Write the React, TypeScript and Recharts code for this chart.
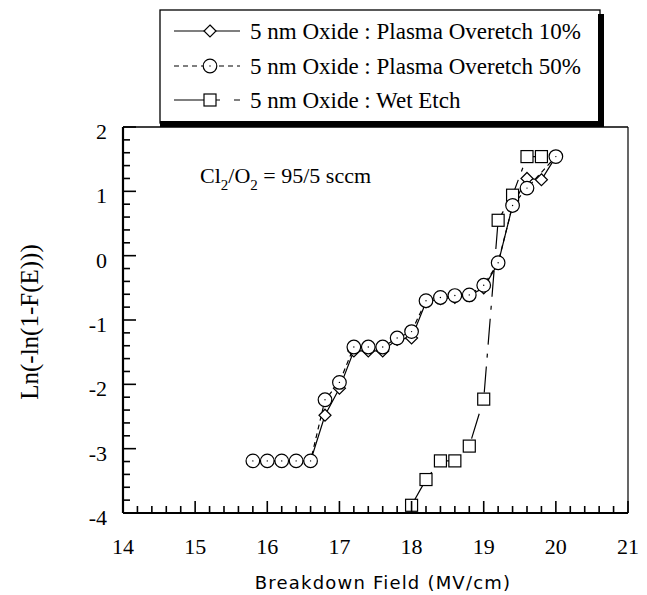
import React from 'react';
import { LineChart, Line, XAxis, YAxis, ReferenceLine } from 'recharts';

// ---- data ----
const plasmaField = [15.8, 16.0, 16.2, 16.4, 16.6, 16.8, 17.0, 17.2, 17.4, 17.6, 17.8, 18.0, 18.2, 18.4, 18.6, 18.8, 19.0, 19.2, 19.4, 19.6, 19.8, 20.0];
const overetch10 = [-3.19, -3.19, -3.19, -3.19, -3.19, -2.48, -2.06, -1.48, -1.48, -1.48, -1.3, -1.28, -0.72, -0.67, -0.65, -0.62, -0.5, -0.12, 0.78, 1.2, 1.18, 1.54];
const overetch50Field = [15.8, 16.0, 16.2, 16.4, 16.6, 16.8, 17.0, 17.2, 17.4, 17.6, 17.8, 18.0, 18.2, 18.4, 18.6, 18.8, 19.0, 19.2, 19.4, 19.6, 20.0];
const overetch50 = [-3.19, -3.19, -3.19, -3.19, -3.19, -2.24, -1.97, -1.42, -1.42, -1.42, -1.28, -1.18, -0.7, -0.65, -0.62, -0.61, -0.46, -0.11, 0.78, 1.05, 1.54];
const wetField = [18.0, 18.2, 18.4, 18.6, 18.8, 19.0, 19.2, 19.4, 19.6, 19.8];
const wetEtch = [-3.88, -3.48, -3.19, -3.19, -2.96, -2.23, 0.55, 0.94, 1.54, 1.54];

const xTickLabels = [14, 15, 16, 17, 18, 19, 20, 21];
const yTickLabels = [-4, -3, -2, -1, 0, 1, 2];
const seriesNames = [
  '5 nm Oxide : Plasma Overetch 10%',
  '5 nm Oxide : Plasma Overetch 50%',
  '5 nm Oxide : Wet Etch',
];
const yAxisTitle = 'Ln(-ln(1-F(E)))';
const xAxisTitle = 'Breakdown Field (MV/cm)';
const MINOR_PER_MAJOR = 5;

const withMinor = (majors: number[]) => {
  const out: number[] = [];
  for (let i = 0; i < majors.length; i++) {
    out.push(majors[i]);
    if (i < majors.length - 1) {
      const step = (majors[i + 1] - majors[i]) / MINOR_PER_MAJOR;
      for (let k = 1; k < MINOR_PER_MAJOR; k++) out.push(+(majors[i] + k * step).toFixed(4));
    }
  }
  return out;
};
const xTicks = withMinor(xTickLabels);
const yTicks = withMinor(yTickLabels);
const isMajor = (v: number) => Math.abs(v - Math.round(v)) < 1e-6;

const d10 = plasmaField.map((x, i) => ({ x, y: overetch10[i] }));
const d50 = overetch50Field.map((x, i) => ({ x, y: overetch50[i] }));
const dWet = wetField.map((x, i) => ({ x, y: wetEtch[i] }));

const SERIF = '"Liberation Serif", "Times New Roman", serif';
const SANS = '"DejaVu Sans", Verdana, sans-serif';

const XTick = (props: any) => {
  const { x, y, payload } = props;
  const v = payload.value;
  const major = isMajor(v);
  return (
    <g>
      <line x1={x} x2={x} y1={y} y2={y - (major ? 12 : 7)} stroke="#000" strokeWidth={1.6} />
      {major && (
        <text x={x} y={y + 41} textAnchor="middle" fontFamily={SERIF} fontSize={22} fill="#000">
          {Math.round(v)}
        </text>
      )}
    </g>
  );
};

const YTick = (props: any) => {
  const { x, y, payload } = props;
  const v = payload.value;
  const major = isMajor(v);
  return (
    <g>
      <line x1={x} x2={x + (major ? 13 : 7)} y1={y} y2={y} stroke="#000" strokeWidth={1.6} />
      {major && (
        <text x={x - 16} y={y + 12} textAnchor="end" fontFamily={SERIF} fontSize={22} fill="#000">
          {Math.round(v)}
        </text>
      )}
    </g>
  );
};

const diamondDot = (p: any) => {
  const { cx, cy, key } = p;
  if (cx == null || cy == null) return <g key={key} />;
  const s = 6;
  return (
    <path key={key} d={`M${cx},${cy - s}L${cx + s},${cy}L${cx},${cy + s}L${cx - s},${cy}Z`} fill="#fff" stroke="#000" strokeWidth={1.2} />
  );
};
const circleDot = (p: any) => {
  const { cx, cy, key } = p;
  if (cx == null || cy == null) return <g key={key} />;
  return (
    <g key={key}>
      <circle cx={cx} cy={cy} r={6.8} fill="#fff" stroke="#000" strokeWidth={1.2} />
      <circle cx={cx} cy={cy} r={0.7} fill="#000" />
    </g>
  );
};
const squareDot = (p: any) => {
  const { cx, cy, key } = p;
  if (cx == null || cy == null) return <g key={key} />;
  return <rect key={key} x={cx - 6} y={cy - 6} width={12} height={12} fill="#fff" stroke="#000" strokeWidth={1.2} />;
};

const legendStyles = [
  { dash: undefined as string | undefined, marker: 'diamond' },
  { dash: '5 4', marker: 'circle' },
  { dash: '30 12 4 14 6', marker: 'square' },
];

const LegendMarker = ({ kind, cx, cy }: { kind: string; cx: number; cy: number }) => {
  if (kind === 'diamond') return diamondDot({ cx, cy, key: 'l' });
  if (kind === 'circle') return circleDot({ cx, cy, key: 'l' });
  return squareDot({ cx, cy, key: 'l' });
};

export default function App() {
  const W = 647;
  const H = 595;
  const rows = [31, 66, 100];
  return (
    <div style={{ position: 'absolute', left: 0, top: 0, width: W, height: H, background: '#fff', overflow: 'hidden' }}>
      <div style={{ position: 'absolute', left: 0, top: 0 }}>
        <LineChart width={W} height={H} margin={{ top: 127, right: 19, left: 63, bottom: 22 }}>
          <XAxis
            dataKey="x"
            type="number"
            domain={[14, 21]}
            ticks={xTicks}
            interval={0}
            allowDataOverflow
            height={60}
            tickLine={false}
            tickSize={0}
            tickMargin={0}
            axisLine={{ stroke: '#000', strokeWidth: 2.2 }}
            tick={XTick}
          />
          <YAxis
            type="number"
            domain={[-4, 2]}
            ticks={yTicks}
            interval={0}
            allowDataOverflow
            width={60}
            tickLine={false}
            tickSize={0}
            tickMargin={0}
            axisLine={{ stroke: '#000', strokeWidth: 2.2 }}
            tick={YTick}
          />
          <ReferenceLine y={2} stroke="#000" strokeWidth={1.6} />
          <ReferenceLine x={21} stroke="#000" strokeWidth={1.2} />
          <Line data={d10} dataKey="y" name={seriesNames[0]} stroke="#000" strokeWidth={1.2} dot={diamondDot} activeDot={false} isAnimationActive={false} />
          <Line data={dWet} dataKey="y" name={seriesNames[2]} stroke="#000" strokeWidth={1.2} strokeDasharray="26 9 4 9" dot={squareDot} activeDot={false} isAnimationActive={false} />
          <Line data={d50} dataKey="y" name={seriesNames[1]} stroke="#000" strokeWidth={1.2} strokeDasharray="5 4" dot={circleDot} activeDot={false} isAnimationActive={false} />
        </LineChart>
      </div>
      <svg width={W} height={H} style={{ position: 'absolute', left: 0, top: 0, pointerEvents: 'none' }}>
        {/* legend box */}
        <rect x={160} y={10} width={440} height={113} fill="#fff" stroke="#000" strokeWidth={1.3} />
        <rect x={598} y={14} width={6} height={113} fill="#000" />
        <rect x={160} y={121} width={444} height={6} fill="#000" />
        {seriesNames.map((name, i) => (
          <g key={name}>
            <line x1={174} x2={240} y1={rows[i]} y2={rows[i]} stroke="#000" strokeWidth={1.2} strokeDasharray={legendStyles[i].dash} />
            <LegendMarker kind={legendStyles[i].marker} cx={210} cy={rows[i]} />
            <text x={250} y={rows[i] + 8} fontFamily={SERIF} fontSize={23} fill="#000">{name}</text>
          </g>
        ))}
        {/* annotation */}
        <text x={200} y={183} fontFamily={SERIF} fontSize={22} fill="#000">
          Cl<tspan fontSize={15} dy={7}>2</tspan>
          <tspan dy={-7}>/O</tspan>
          <tspan fontSize={15} dy={7}>2</tspan>
          <tspan dy={-7}> = 95/5 sccm</tspan>
        </text>
        {/* axis titles */}
        <text x={0} y={0} transform="translate(38,322) rotate(-90)" textAnchor="middle" fontFamily={SERIF} fontSize={25} fill="#000">
          {yAxisTitle}
        </text>
        <text x={383} y={589} textAnchor="middle" fontFamily={SANS} fontSize={18} letterSpacing={1.2} fill="#000">
          {xAxisTitle}
        </text>
      </svg>
    </div>
  );
}
